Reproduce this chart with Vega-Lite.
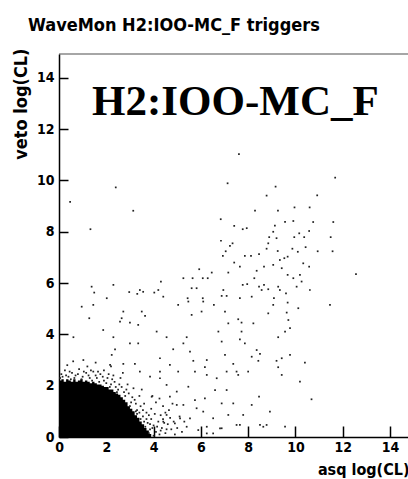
{
  "$schema": "https://vega.github.io/schema/vega-lite/v6.json",
  "width": 349,
  "height": 383,
  "autosize": "none",
  "padding": {"left": 59, "top": 54, "right": 0, "bottom": 42},
  "background": "white",
  "title": {
    "text": "WaveMon H2:IOO-MC_F triggers",
    "anchor": "start",
    "frame": "group",
    "dx": -31,
    "dy": 24,
    "offset": 23,
    "baseline": "alphabetic",
    "font": "DejaVu Sans Condensed",
    "fontSize": 18,
    "fontWeight": "bold",
    "color": "black"
  },
  "config": {"view": {"stroke": "#888", "strokeWidth": 1.5, "strokeDash": [349, 3000]}, "axis": {"grid": false}},
  "datasets": {
    "blob": [
      {"x0": 0.0, "top": 2.2}, {"x0": 0.1, "top": 2.25}, {"x0": 0.2, "top": 2.15},
      {"x0": 0.3, "top": 2.25}, {"x0": 0.4, "top": 2.2}, {"x0": 0.5, "top": 2.15},
      {"x0": 0.6, "top": 2.25}, {"x0": 0.7, "top": 2.15}, {"x0": 0.8, "top": 2.2},
      {"x0": 0.9, "top": 2.25}, {"x0": 1.0, "top": 2.15}, {"x0": 1.1, "top": 2.2},
      {"x0": 1.2, "top": 2.15}, {"x0": 1.3, "top": 2.1}, {"x0": 1.4, "top": 2.15},
      {"x0": 1.5, "top": 2.1}, {"x0": 1.6, "top": 2.05}, {"x0": 1.7, "top": 2.05},
      {"x0": 1.8, "top": 2.0}, {"x0": 1.9, "top": 1.95}, {"x0": 2.0, "top": 1.95},
      {"x0": 2.1, "top": 1.85}, {"x0": 2.2, "top": 1.85}, {"x0": 2.3, "top": 1.75},
      {"x0": 2.4, "top": 1.7}, {"x0": 2.5, "top": 1.65}, {"x0": 2.6, "top": 1.55},
      {"x0": 2.7, "top": 1.45}, {"x0": 2.8, "top": 1.35}, {"x0": 2.9, "top": 1.2},
      {"x0": 3.0, "top": 1.1}, {"x0": 3.1, "top": 1.0}, {"x0": 3.2, "top": 0.85},
      {"x0": 3.3, "top": 0.75}, {"x0": 3.4, "top": 0.6}, {"x0": 3.5, "top": 0.5},
      {"x0": 3.6, "top": 0.35}, {"x0": 3.7, "top": 0.25}, {"x0": 3.8, "top": 0.12}, {"x0": 3.9, "top": 0.0}
    ],
    "halo": [
      {"x": 0.1, "y": 2.45}, {"x": 0.25, "y": 2.6}, {"x": 0.4, "y": 2.35}, {"x": 0.55, "y": 2.5}, {"x": 0.7, "y": 2.4},
      {"x": 0.85, "y": 2.65}, {"x": 1.0, "y": 2.35}, {"x": 1.15, "y": 2.5}, {"x": 1.3, "y": 2.3}, {"x": 1.45, "y": 2.55},
      {"x": 1.6, "y": 2.3}, {"x": 1.75, "y": 2.45}, {"x": 1.9, "y": 2.2}, {"x": 2.05, "y": 2.3}, {"x": 2.2, "y": 2.05},
      {"x": 2.35, "y": 2.15}, {"x": 2.5, "y": 1.85}, {"x": 2.65, "y": 1.95}, {"x": 2.8, "y": 1.6}, {"x": 2.95, "y": 1.7},
      {"x": 3.05, "y": 1.35}, {"x": 3.2, "y": 1.45}, {"x": 3.3, "y": 1.05}, {"x": 3.45, "y": 1.2}, {"x": 3.55, "y": 0.8},
      {"x": 3.7, "y": 0.95}, {"x": 3.75, "y": 0.55}, {"x": 3.9, "y": 0.7}, {"x": 3.85, "y": 0.3}, {"x": 4.0, "y": 0.45},
      {"x": 4.1, "y": 0.2}, {"x": 4.2, "y": 0.6}, {"x": 4.35, "y": 0.35}, {"x": 4.5, "y": 0.15}, {"x": 4.6, "y": 0.5},
      {"x": 4.75, "y": 0.3}, {"x": 4.9, "y": 0.1}, {"x": 3.6, "y": 1.3}, {"x": 3.9, "y": 1.1}, {"x": 4.05, "y": 0.9},
      {"x": 4.3, "y": 0.85}, {"x": 4.5, "y": 0.95}, {"x": 4.7, "y": 0.75}, {"x": 4.85, "y": 0.6}, {"x": 5.0, "y": 0.35},
      {"x": 3.4, "y": 1.6}, {"x": 3.15, "y": 1.9}, {"x": 2.9, "y": 2.05}, {"x": 2.6, "y": 2.3}, {"x": 2.3, "y": 2.4},
      {"x": 0.35, "y": 2.8}, {"x": 1.2, "y": 2.75}, {"x": 1.9, "y": 2.6}, {"x": 2.7, "y": 2.5}, {"x": 3.5, "y": 1.85},
      {"x": 4.1, "y": 1.35}, {"x": 4.4, "y": 1.2}, {"x": 4.65, "y": 1.05}, {"x": 3.3, "y": 0.9}, {"x": 3.6, "y": 0.6},
      {"x": 3.8, "y": 0.15}, {"x": 4.0, "y": 0.05}, {"x": 4.25, "y": 0.1}, {"x": 4.45, "y": 0.55}, {"x": 2.45, "y": 1.75},
      {"x": 2.15, "y": 1.95}, {"x": 0.05, "y": 2.3}, {"x": 0.5, "y": 2.25}, {"x": 0.95, "y": 2.25}, {"x": 1.4, "y": 2.2},
      {"x": 1.7, "y": 2.15}, {"x": 3.0, "y": 1.2}, {"x": 3.25, "y": 1.0}, {"x": 3.45, "y": 0.7}, {"x": 3.65, "y": 0.4},
      {"x": 5.2, "y": 0.2}, {"x": 5.3, "y": 0.6}, {"x": 5.1, "y": 0.8}, {"x": 4.8, "y": 1.3}, {"x": 3.95, "y": 1.6},
      {"x": 4.25, "y": 1.5}, {"x": 0.6, "y": 2.95}, {"x": 1.55, "y": 2.9}, {"x": 2.2, "y": 2.75},
      {"x": 0.15, "y": 2.35}, {"x": 0.3, "y": 2.4}, {"x": 0.45, "y": 2.55}, {"x": 0.65, "y": 2.3}, {"x": 0.8, "y": 2.45},
      {"x": 1.05, "y": 2.55}, {"x": 1.25, "y": 2.4}, {"x": 1.35, "y": 2.6}, {"x": 1.55, "y": 2.4}, {"x": 1.65, "y": 2.55},
      {"x": 1.85, "y": 2.35}, {"x": 2.0, "y": 2.1}, {"x": 2.1, "y": 2.45}, {"x": 2.25, "y": 2.25}, {"x": 2.4, "y": 1.95},
      {"x": 2.55, "y": 2.05}, {"x": 2.75, "y": 1.75}, {"x": 2.85, "y": 1.85}, {"x": 3.1, "y": 1.55}, {"x": 3.25, "y": 1.3},
      {"x": 3.4, "y": 0.95}, {"x": 3.55, "y": 1.05}, {"x": 3.7, "y": 0.7}, {"x": 3.8, "y": 0.85}, {"x": 3.95, "y": 0.35},
      {"x": 4.15, "y": 0.4}, {"x": 4.3, "y": 0.25}, {"x": 4.55, "y": 0.3}, {"x": 4.4, "y": 0.7}, {"x": 3.85, "y": 0.5}
    ],
    "pts": [
      {"x": 7.61, "y": 11.03}, {"x": 11.68, "y": 10.11}, {"x": 7.13, "y": 9.89}, {"x": 2.4, "y": 9.73}, {"x": 9.16, "y": 9.76},
      {"x": 0.47, "y": 9.17}, {"x": 8.78, "y": 9.41}, {"x": 10.92, "y": 9.42}, {"x": 3.14, "y": 8.82}, {"x": 8.29, "y": 8.82},
      {"x": 9.26, "y": 8.82}, {"x": 9.96, "y": 8.95}, {"x": 10.6, "y": 8.95}, {"x": 6.84, "y": 8.49}, {"x": 9.91, "y": 8.42},
      {"x": 9.56, "y": 8.39}, {"x": 10.75, "y": 8.38}, {"x": 11.6, "y": 8.38}, {"x": 1.33, "y": 8.1}, {"x": 7.41, "y": 8.23},
      {"x": 7.77, "y": 8.1}, {"x": 7.94, "y": 8.14}, {"x": 9.13, "y": 8.24}, {"x": 9.06, "y": 8.0}, {"x": 10.58, "y": 8.03},
      {"x": 9.2, "y": 7.75}, {"x": 8.89, "y": 7.79}, {"x": 9.95, "y": 7.79}, {"x": 10.16, "y": 7.94}, {"x": 10.37, "y": 7.79},
      {"x": 11.49, "y": 7.79}, {"x": 6.85, "y": 7.65}, {"x": 7.23, "y": 7.45}, {"x": 7.34, "y": 7.55}, {"x": 8.85, "y": 7.55},
      {"x": 9.87, "y": 7.34}, {"x": 10.43, "y": 7.4}, {"x": 8.78, "y": 7.34}, {"x": 9.25, "y": 7.25}, {"x": 10.1, "y": 7.22},
      {"x": 10.94, "y": 7.24}, {"x": 11.57, "y": 7.24}, {"x": 7.05, "y": 7.24}, {"x": 6.93, "y": 7.06}, {"x": 7.86, "y": 7.06},
      {"x": 8.12, "y": 7.06}, {"x": 8.46, "y": 7.13}, {"x": 9.67, "y": 7.03}, {"x": 9.34, "y": 6.9}, {"x": 9.53, "y": 6.97},
      {"x": 7.41, "y": 6.8}, {"x": 7.65, "y": 6.64}, {"x": 8.67, "y": 6.64}, {"x": 9.06, "y": 6.71}, {"x": 9.42, "y": 6.58},
      {"x": 10.33, "y": 6.77}, {"x": 10.58, "y": 6.64}, {"x": 5.93, "y": 6.54}, {"x": 8.36, "y": 6.48}, {"x": 7.16, "y": 6.41},
      {"x": 6.46, "y": 6.41}, {"x": 9.67, "y": 6.32}, {"x": 10.19, "y": 6.32}, {"x": 12.56, "y": 6.35}, {"x": 5.26, "y": 6.19},
      {"x": 5.65, "y": 6.19}, {"x": 6.08, "y": 6.19}, {"x": 6.29, "y": 6.19}, {"x": 8.26, "y": 6.19}, {"x": 9.91, "y": 6.19},
      {"x": 10.26, "y": 6.06}, {"x": 4.31, "y": 6.06}, {"x": 1.38, "y": 5.86}, {"x": 2.3, "y": 5.93}, {"x": 7.77, "y": 5.93},
      {"x": 7.96, "y": 5.96}, {"x": 8.46, "y": 5.86}, {"x": 8.67, "y": 5.93}, {"x": 9.27, "y": 5.86}, {"x": 10.05, "y": 5.86},
      {"x": 5.61, "y": 5.8}, {"x": 5.82, "y": 5.8}, {"x": 1.49, "y": 5.63}, {"x": 2.97, "y": 5.65}, {"x": 3.42, "y": 5.73},
      {"x": 3.56, "y": 5.66}, {"x": 3.31, "y": 5.58}, {"x": 4.03, "y": 5.63}, {"x": 4.2, "y": 5.73}, {"x": 4.41, "y": 5.47},
      {"x": 6.95, "y": 5.73}, {"x": 6.88, "y": 5.5}, {"x": 7.09, "y": 5.5}, {"x": 8.57, "y": 5.73}, {"x": 8.85, "y": 5.76},
      {"x": 9.34, "y": 5.73}, {"x": 9.6, "y": 5.6}, {"x": 10.61, "y": 5.73}, {"x": 7.65, "y": 5.41}, {"x": 8.15, "y": 5.47},
      {"x": 9.09, "y": 5.41}, {"x": 2.02, "y": 5.41}, {"x": 5.44, "y": 5.41}, {"x": 6.08, "y": 5.41},
      {"x": 0.96, "y": 5.08}, {"x": 1.45, "y": 5.15}, {"x": 5.04, "y": 5.15}, {"x": 6.55, "y": 5.15}, {"x": 9.06, "y": 5.15},
      {"x": 9.67, "y": 5.24}, {"x": 10.12, "y": 5.02}, {"x": 11.46, "y": 5.15}, {"x": 5.47, "y": 5.28}, {"x": 6.1, "y": 5.28},
      {"x": 2.72, "y": 4.89}, {"x": 3.5, "y": 4.89}, {"x": 6.03, "y": 4.89}, {"x": 7.02, "y": 4.89}, {"x": 8.85, "y": 4.82},
      {"x": 9.63, "y": 4.85}, {"x": 1.28, "y": 4.63}, {"x": 2.65, "y": 4.63}, {"x": 3.64, "y": 4.72}, {"x": 5.61, "y": 4.76},
      {"x": 2.58, "y": 4.5}, {"x": 3.0, "y": 4.46}, {"x": 3.35, "y": 4.37}, {"x": 7.16, "y": 4.43}, {"x": 7.58, "y": 4.59},
      {"x": 7.72, "y": 4.46}, {"x": 8.22, "y": 4.43}, {"x": 9.7, "y": 4.56}, {"x": 1.87, "y": 4.17}, {"x": 4.13, "y": 4.11},
      {"x": 6.74, "y": 4.11}, {"x": 7.72, "y": 4.11}, {"x": 9.77, "y": 4.24}, {"x": 9.56, "y": 4.11}, {"x": 0.61, "y": 3.89},
      {"x": 2.3, "y": 3.89}, {"x": 4.55, "y": 3.89}, {"x": 5.4, "y": 3.89}, {"x": 7.65, "y": 3.81}, {"x": 9.27, "y": 3.89},
      {"x": 3.0, "y": 3.65}, {"x": 3.35, "y": 3.65}, {"x": 5.26, "y": 3.65}, {"x": 6.88, "y": 3.72}, {"x": 7.86, "y": 3.65},
      {"x": 2.37, "y": 3.42}, {"x": 4.83, "y": 3.42}, {"x": 5.54, "y": 3.33}, {"x": 7.02, "y": 3.2}, {"x": 8.36, "y": 3.39},
      {"x": 8.5, "y": 3.24}, {"x": 9.77, "y": 3.2}, {"x": 2.23, "y": 3.2}, {"x": 1.03, "y": 3.0}, {"x": 4.27, "y": 3.07},
      {"x": 6.25, "y": 3.0}, {"x": 8.15, "y": 3.13}, {"x": 9.2, "y": 2.97}, {"x": 9.42, "y": 3.07}, {"x": 10.4, "y": 2.9},
      {"x": 5.68, "y": 2.97}, {"x": 2.16, "y": 2.81}, {"x": 2.72, "y": 2.85}, {"x": 3.21, "y": 2.85}, {"x": 4.69, "y": 2.81},
      {"x": 7.37, "y": 2.85}, {"x": 8.43, "y": 2.97}, {"x": 9.27, "y": 2.72}, {"x": 3.42, "y": 2.55}, {"x": 4.27, "y": 2.55},
      {"x": 5.04, "y": 2.55}, {"x": 5.75, "y": 2.55}, {"x": 6.17, "y": 2.72}, {"x": 6.25, "y": 2.42}, {"x": 7.09, "y": 2.55},
      {"x": 7.51, "y": 2.55}, {"x": 7.58, "y": 2.42}, {"x": 8.0, "y": 2.55}, {"x": 3.85, "y": 2.35}, {"x": 4.27, "y": 2.29},
      {"x": 6.67, "y": 2.29}, {"x": 9.42, "y": 2.42}, {"x": 10.19, "y": 2.16}, {"x": 4.55, "y": 2.03}, {"x": 5.47, "y": 1.96},
      {"x": 6.6, "y": 1.83}, {"x": 7.09, "y": 1.83}, {"x": 10.68, "y": 1.47}, {"x": 8.46, "y": 1.57}, {"x": 4.98, "y": 1.77},
      {"x": 3.92, "y": 1.57}, {"x": 4.69, "y": 1.57}, {"x": 5.75, "y": 1.44}, {"x": 6.17, "y": 1.51}, {"x": 6.88, "y": 1.31},
      {"x": 7.37, "y": 1.31}, {"x": 8.15, "y": 1.25}, {"x": 4.98, "y": 1.25}, {"x": 5.26, "y": 1.25}, {"x": 5.82, "y": 1.12},
      {"x": 6.1, "y": 0.99}, {"x": 8.92, "y": 0.99}, {"x": 6.52, "y": 0.73}, {"x": 7.16, "y": 0.86}, {"x": 7.79, "y": 0.86},
      {"x": 4.55, "y": 0.86}, {"x": 5.12, "y": 0.73}, {"x": 5.54, "y": 0.73}, {"x": 4.41, "y": 0.6}, {"x": 4.9, "y": 0.53},
      {"x": 5.4, "y": 0.4}, {"x": 5.89, "y": 0.27}, {"x": 6.25, "y": 0.4}, {"x": 6.81, "y": 0.34}, {"x": 7.65, "y": 0.47},
      {"x": 8.64, "y": 0.4}, {"x": 9.56, "y": 0.4}, {"x": 8.5, "y": 0.47}, {"x": 8.78, "y": 0.47}, {"x": 7.51, "y": 0.47},
      {"x": 6.25, "y": 0.14}, {"x": 6.52, "y": 0.14}, {"x": 6.88, "y": 0.34}
    ],
    "label": [{"x": 1.4, "y": 12.55, "text": "H2:IOO-MC_F"}]
  },
  "layer": [
    {
      "data": {"name": "blob"},
      "mark": {"type": "area", "interpolate": "step-after", "fill": "black", "opacity": 1},
      "encoding": {
        "x": {
          "field": "x0", "type": "quantitative",
          "scale": {"domain": [0, 14.76], "nice": false, "zero": false},
          "axis": {
            "orient": "bottom",
            "values": [0, 0.5, 1, 1.5, 2, 2.5, 3, 3.5, 4, 4.5, 5, 5.5, 6, 6.5, 7, 7.5, 8, 8.5, 9, 9.5, 10, 10.5, 11, 11.5, 12, 12.5, 13, 13.5, 14, 14.5],
            "ticks": true, "grid": false,
            "tickColor": "black",
            "tickSize": {"condition": {"test": "datum.value % 2 === 0", "value": -11}, "value": -5},
            "tickWidth": {"condition": {"test": "datum.value % 2 === 0", "value": 1.5}, "value": 1.2},
            "domain": true, "domainColor": "black", "domainWidth": 1.5,
            "labelExpr": "datum.value % 2 === 0 ? datum.label : ''",
            "labelFont": "DejaVu Sans Condensed", "labelFontSize": 14, "labelFontWeight": "bold", "labelColor": "black",
            "labelPadding": 14, "labelFlush": false, "labelOverlap": false, "labelBound": false,
            "title": "asq log(CL)", "titleFont": "DejaVu Sans Condensed", "titleFontSize": 16, "titleFontWeight": "bold",
            "titleColor": "black", "titleAnchor": null, "titleAlign": "right", "titleBaseline": "alphabetic",
            "titleX": 350, "titleY": 37
          }
        },
        "y": {
          "field": "top", "type": "quantitative", "stack": null,
          "scale": {"domain": [0, 14.93], "nice": false, "zero": false},
          "axis": {
            "orient": "left",
            "values": [0, 0.5, 1, 1.5, 2, 2.5, 3, 3.5, 4, 4.5, 5, 5.5, 6, 6.5, 7, 7.5, 8, 8.5, 9, 9.5, 10, 10.5, 11, 11.5, 12, 12.5, 13, 13.5, 14, 14.5],
            "ticks": true, "grid": false,
            "tickColor": "black",
            "tickSize": {"condition": {"test": "datum.value % 2 === 0", "value": -9}, "value": -5},
            "tickWidth": {"condition": {"test": "datum.value % 2 === 0", "value": 1.5}, "value": 1.2},
            "domain": true, "domainColor": "black", "domainWidth": 1.5,
            "labelExpr": "datum.value % 2 === 0 ? datum.label : ''",
            "labelFont": "DejaVu Sans Condensed", "labelFontSize": 14, "labelFontWeight": "bold", "labelColor": "black",
            "labelPadding": 14, "labelFlush": false, "labelOverlap": false, "labelBound": false,
            "title": "veto log(CL)", "titleFont": "DejaVu Sans Condensed", "titleFontSize": 18, "titleFontWeight": "bold",
            "titleColor": "black", "titleAnchor": null, "titleAngle": 270, "titleAlign": "right", "titleBaseline": "middle",
            "titleX": -38, "titleY": -6
          }
        },
        "y2": {"datum": 0}
      }
    },
    {
      "data": {"name": "halo"},
      "mark": {"type": "point", "shape": "square", "filled": true, "size": 3, "color": "#222", "opacity": 1},
      "encoding": {
        "x": {"field": "x", "type": "quantitative"},
        "y": {"field": "y", "type": "quantitative"}
      }
    },
    {
      "data": {"name": "pts"},
      "mark": {"type": "point", "shape": "square", "filled": true, "size": 3, "color": "#222", "opacity": 1},
      "encoding": {
        "x": {"field": "x", "type": "quantitative"},
        "y": {"field": "y", "type": "quantitative"}
      }
    },
    {
      "data": {"name": "label"},
      "mark": {"type": "text", "align": "left", "baseline": "alphabetic", "font": "Liberation Serif", "fontSize": 43, "fontWeight": "bold", "color": "black"},
      "encoding": {
        "x": {"field": "x", "type": "quantitative"},
        "y": {"field": "y", "type": "quantitative"},
        "text": {"field": "text"}
      }
    }
  ]
}
